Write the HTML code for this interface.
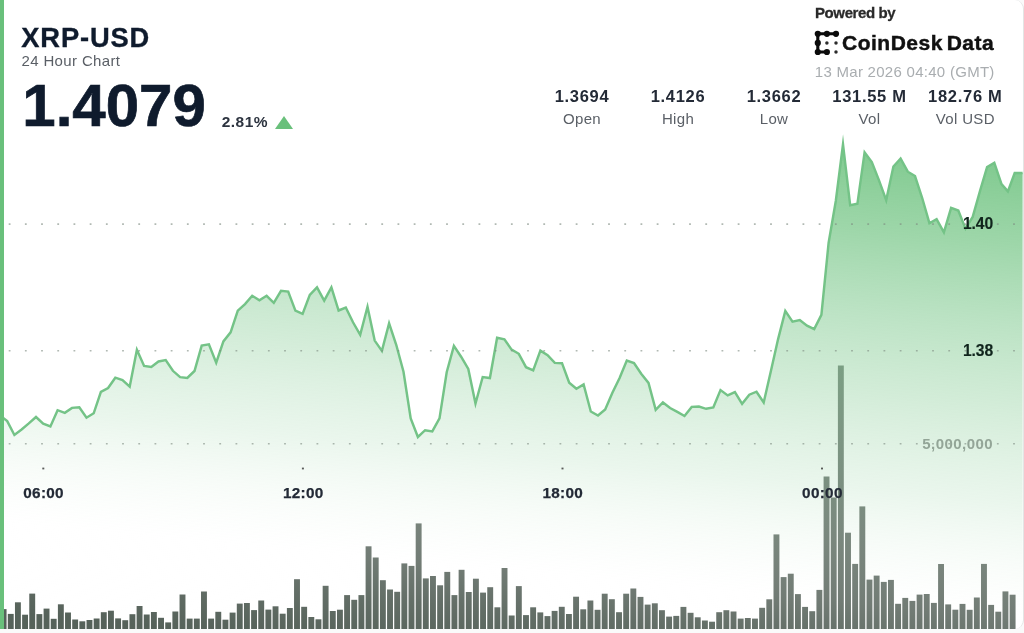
<!DOCTYPE html>
<html lang="en">
<head>
<meta charset="utf-8">
<title>XRP-USD 24 Hour Chart</title>
<style>
html,body{margin:0;padding:0;background:#fafafa;}
body{width:1024px;height:633px;overflow:hidden;position:relative;font-family:"Liberation Sans",sans-serif;color:#0f1b2d;}
#card{position:absolute;left:0;top:0;width:1022.5px;height:629.4px;overflow:hidden;background:#fff;border-right:1.5px solid #e3e5e4;border-radius:0 9px 9px 0;}
#chart{position:absolute;left:0;top:0;width:1024px;height:633px;filter:blur(0.55px);}
.t,.stat{filter:blur(0.35px);}
.t{position:absolute;white-space:nowrap;line-height:1;}
.b{font-weight:bold;}
#accent{position:absolute;left:0;top:0;width:3.6px;height:629.3px;background:#69c07b;}
#pair{left:21.3px;top:23.7px;font-size:27.3px;letter-spacing:0.85px;-webkit-text-stroke:0.35px #0f1b2d;}
#sub{left:21.5px;top:53.4px;font-size:15px;letter-spacing:0.36px;color:#5a5f66;}
#price{left:22.3px;top:76.2px;font-size:60px;letter-spacing:0px;-webkit-text-stroke:0.7px #0f1b2d;}
#chg{left:221.8px;top:114.3px;font-size:15.5px;letter-spacing:0.45px;color:#2d3440;}
#tri{position:absolute;left:275.2px;top:115.5px;width:0;height:0;border-left:9.1px solid transparent;border-right:9.1px solid transparent;border-bottom:13.8px solid #69c07b;}
#pow{left:815px;top:5.3px;font-size:15px;color:#2a2a2a;letter-spacing:-0.4px;-webkit-text-stroke:0.3px #2a2a2a;}
#brand{left:842px;top:32.3px;font-size:21px;color:#111;letter-spacing:0.5px;word-spacing:-2.5px;-webkit-text-stroke:0.45px #111;}
#date{left:814.8px;top:64.2px;font-size:15px;letter-spacing:0.28px;color:#a9adb0;}
.stat{position:absolute;top:88px;width:120px;margin-left:-60px;text-align:center;}
.stat .v{font-size:16.5px;font-weight:bold;line-height:17px;letter-spacing:0.7px;color:#232a36;}
.stat .l{font-size:15px;line-height:17px;margin-top:4.6px;letter-spacing:0.35px;color:#5a5f66;}
.xl{top:484.8px;font-size:15.3px;letter-spacing:0.3px;-webkit-text-stroke:0.25px #232a36;width:60px;margin-left:-29.7px;text-align:center;color:#232a36;}
.yl{font-size:15.7px;letter-spacing:-0.1px;right:29.4px;text-align:right;color:#10241c;-webkit-text-stroke:0.15px #10241c;}
</style>
</head>
<body>
<div id="card">
<svg id="chart" width="1024" height="633" viewBox="0 0 1024 633">
<defs>
<linearGradient id="g" gradientUnits="userSpaceOnUse" x1="900" y1="150" x2="848.8" y2="692.3">
<stop offset="0.000" stop-color="rgb(105,192,123)" stop-opacity="0.85"/>
<stop offset="0.153" stop-color="rgb(121,199,137)" stop-opacity="0.725"/>
<stop offset="0.300" stop-color="rgb(143,208,157)" stop-opacity="0.605"/>
<stop offset="0.445" stop-color="rgb(163,216,174)" stop-opacity="0.49"/>
<stop offset="0.626" stop-color="rgb(193,229,201)" stop-opacity="0.34"/>
<stop offset="0.729" stop-color="rgb(226,243,229)" stop-opacity="0.255"/>
<stop offset="0.836" stop-color="rgb(255,255,255)" stop-opacity="0.165"/>
<stop offset="0.909" stop-color="rgb(255,255,255)" stop-opacity="0.08"/>
<stop offset="1.001" stop-color="rgb(255,255,255)" stop-opacity="0"/>
</linearGradient>
</defs>
<g fill="#56625a">
<rect x="0.65" y="609.1" width="5.9" height="20.2"/>
<rect x="7.81" y="613.9" width="5.9" height="15.4"/>
<rect x="14.96" y="602.3" width="5.9" height="27.0"/>
<rect x="22.12" y="614.7" width="5.9" height="14.6"/>
<rect x="29.27" y="593.6" width="5.9" height="35.7"/>
<rect x="36.43" y="614.1" width="5.9" height="15.2"/>
<rect x="43.59" y="608.6" width="5.9" height="20.7"/>
<rect x="50.74" y="618.8" width="5.9" height="10.5"/>
<rect x="57.90" y="604.3" width="5.9" height="25.0"/>
<rect x="65.05" y="612.5" width="5.9" height="16.8"/>
<rect x="72.21" y="619.5" width="5.9" height="9.8"/>
<rect x="79.37" y="621.3" width="5.9" height="8.0"/>
<rect x="86.52" y="620.0" width="5.9" height="9.3"/>
<rect x="93.68" y="618.5" width="5.9" height="10.8"/>
<rect x="100.83" y="612.2" width="5.9" height="17.1"/>
<rect x="107.99" y="610.7" width="5.9" height="18.6"/>
<rect x="115.15" y="618.4" width="5.9" height="10.9"/>
<rect x="122.30" y="620.2" width="5.9" height="9.1"/>
<rect x="129.46" y="614.2" width="5.9" height="15.1"/>
<rect x="136.61" y="606.0" width="5.9" height="23.3"/>
<rect x="143.77" y="614.5" width="5.9" height="14.8"/>
<rect x="150.93" y="612.0" width="5.9" height="17.3"/>
<rect x="158.08" y="617.8" width="5.9" height="11.5"/>
<rect x="165.24" y="622.4" width="5.9" height="6.9"/>
<rect x="172.39" y="611.5" width="5.9" height="17.8"/>
<rect x="179.55" y="594.5" width="5.9" height="34.8"/>
<rect x="186.71" y="618.6" width="5.9" height="10.7"/>
<rect x="193.86" y="618.6" width="5.9" height="10.7"/>
<rect x="201.02" y="591.5" width="5.9" height="37.8"/>
<rect x="208.17" y="618.6" width="5.9" height="10.7"/>
<rect x="215.33" y="611.8" width="5.9" height="17.5"/>
<rect x="222.49" y="619.7" width="5.9" height="9.6"/>
<rect x="229.64" y="612.6" width="5.9" height="16.7"/>
<rect x="236.80" y="603.6" width="5.9" height="25.7"/>
<rect x="243.95" y="603.0" width="5.9" height="26.3"/>
<rect x="251.11" y="610.1" width="5.9" height="19.2"/>
<rect x="258.27" y="600.5" width="5.9" height="28.8"/>
<rect x="265.42" y="609.6" width="5.9" height="19.7"/>
<rect x="272.58" y="606.3" width="5.9" height="23.0"/>
<rect x="279.73" y="613.7" width="5.9" height="15.6"/>
<rect x="286.89" y="608.0" width="5.9" height="21.3"/>
<rect x="294.05" y="579.2" width="5.9" height="50.1"/>
<rect x="301.20" y="606.8" width="5.9" height="22.5"/>
<rect x="308.36" y="617.0" width="5.9" height="12.3"/>
<rect x="315.51" y="619.3" width="5.9" height="10.0"/>
<rect x="322.67" y="585.8" width="5.9" height="43.5"/>
<rect x="329.83" y="611.0" width="5.9" height="18.3"/>
<rect x="336.98" y="609.7" width="5.9" height="19.6"/>
<rect x="344.14" y="595.1" width="5.9" height="34.2"/>
<rect x="351.29" y="599.8" width="5.9" height="29.5"/>
<rect x="358.45" y="595.1" width="5.9" height="34.2"/>
<rect x="365.61" y="546.3" width="5.9" height="83.0"/>
<rect x="372.76" y="557.5" width="5.9" height="71.8"/>
<rect x="379.92" y="580.2" width="5.9" height="49.1"/>
<rect x="387.07" y="589.5" width="5.9" height="39.8"/>
<rect x="394.23" y="591.8" width="5.9" height="37.5"/>
<rect x="401.39" y="563.4" width="5.9" height="65.9"/>
<rect x="408.54" y="565.9" width="5.9" height="63.4"/>
<rect x="415.70" y="523.4" width="5.9" height="105.9"/>
<rect x="422.85" y="578.4" width="5.9" height="50.9"/>
<rect x="430.01" y="576.0" width="5.9" height="53.3"/>
<rect x="437.17" y="585.3" width="5.9" height="44.0"/>
<rect x="444.32" y="571.9" width="5.9" height="57.4"/>
<rect x="451.48" y="595.1" width="5.9" height="34.2"/>
<rect x="458.63" y="569.8" width="5.9" height="59.5"/>
<rect x="465.79" y="592.0" width="5.9" height="37.3"/>
<rect x="472.95" y="578.7" width="5.9" height="50.6"/>
<rect x="480.10" y="592.6" width="5.9" height="36.7"/>
<rect x="487.26" y="587.2" width="5.9" height="42.1"/>
<rect x="494.41" y="607.3" width="5.9" height="22.0"/>
<rect x="501.57" y="568.0" width="5.9" height="61.3"/>
<rect x="508.73" y="615.5" width="5.9" height="13.8"/>
<rect x="515.88" y="586.1" width="5.9" height="43.2"/>
<rect x="523.04" y="615.1" width="5.9" height="14.2"/>
<rect x="530.19" y="607.3" width="5.9" height="22.0"/>
<rect x="537.35" y="612.4" width="5.9" height="16.9"/>
<rect x="544.51" y="616.1" width="5.9" height="13.2"/>
<rect x="551.66" y="610.9" width="5.9" height="18.4"/>
<rect x="558.82" y="606.8" width="5.9" height="22.5"/>
<rect x="565.97" y="614.0" width="5.9" height="15.3"/>
<rect x="573.13" y="596.7" width="5.9" height="32.6"/>
<rect x="580.29" y="609.3" width="5.9" height="20.0"/>
<rect x="587.44" y="600.5" width="5.9" height="28.8"/>
<rect x="594.60" y="609.8" width="5.9" height="19.5"/>
<rect x="601.75" y="593.7" width="5.9" height="35.6"/>
<rect x="608.91" y="599.2" width="5.9" height="30.1"/>
<rect x="616.07" y="612.2" width="5.9" height="17.1"/>
<rect x="623.22" y="593.7" width="5.9" height="35.6"/>
<rect x="630.38" y="588.5" width="5.9" height="40.8"/>
<rect x="637.53" y="596.9" width="5.9" height="32.4"/>
<rect x="644.69" y="604.6" width="5.9" height="24.7"/>
<rect x="651.85" y="603.3" width="5.9" height="26.0"/>
<rect x="659.00" y="610.2" width="5.9" height="19.1"/>
<rect x="666.16" y="616.6" width="5.9" height="12.7"/>
<rect x="673.31" y="615.9" width="5.9" height="13.4"/>
<rect x="680.47" y="606.9" width="5.9" height="22.4"/>
<rect x="687.63" y="612.8" width="5.9" height="16.5"/>
<rect x="694.78" y="617.3" width="5.9" height="12.0"/>
<rect x="701.94" y="620.5" width="5.9" height="8.8"/>
<rect x="709.09" y="621.7" width="5.9" height="7.6"/>
<rect x="716.25" y="612.2" width="5.9" height="17.1"/>
<rect x="723.41" y="610.2" width="5.9" height="19.1"/>
<rect x="730.56" y="611.5" width="5.9" height="17.8"/>
<rect x="737.72" y="618.6" width="5.9" height="10.7"/>
<rect x="744.87" y="618.0" width="5.9" height="11.3"/>
<rect x="752.03" y="618.6" width="5.9" height="10.7"/>
<rect x="759.19" y="607.8" width="5.9" height="21.5"/>
<rect x="766.34" y="599.3" width="5.9" height="30.0"/>
<rect x="773.50" y="534.4" width="5.9" height="94.9"/>
<rect x="780.65" y="577.1" width="5.9" height="52.2"/>
<rect x="787.81" y="573.7" width="5.9" height="55.6"/>
<rect x="794.97" y="594.1" width="5.9" height="35.2"/>
<rect x="802.12" y="606.9" width="5.9" height="22.4"/>
<rect x="809.28" y="611.2" width="5.9" height="18.1"/>
<rect x="816.43" y="589.9" width="5.9" height="39.4"/>
<rect x="823.59" y="476.5" width="5.9" height="152.8"/>
<rect x="830.75" y="497.5" width="5.9" height="131.8"/>
<rect x="837.90" y="365.5" width="5.9" height="263.8"/>
<rect x="845.06" y="532.7" width="5.9" height="96.6"/>
<rect x="852.21" y="563.9" width="5.9" height="65.4"/>
<rect x="859.37" y="506.4" width="5.9" height="122.9"/>
<rect x="866.53" y="579.6" width="5.9" height="49.7"/>
<rect x="873.68" y="575.6" width="5.9" height="53.7"/>
<rect x="880.84" y="581.9" width="5.9" height="47.4"/>
<rect x="887.99" y="579.9" width="5.9" height="49.4"/>
<rect x="895.15" y="603.8" width="5.9" height="25.5"/>
<rect x="902.31" y="597.9" width="5.9" height="31.4"/>
<rect x="909.46" y="600.9" width="5.9" height="28.4"/>
<rect x="916.62" y="594.6" width="5.9" height="34.7"/>
<rect x="923.77" y="594.0" width="5.9" height="35.3"/>
<rect x="930.93" y="602.9" width="5.9" height="26.4"/>
<rect x="938.09" y="564.0" width="5.9" height="65.3"/>
<rect x="945.24" y="604.4" width="5.9" height="24.9"/>
<rect x="952.40" y="609.7" width="5.9" height="19.6"/>
<rect x="959.55" y="603.9" width="5.9" height="25.4"/>
<rect x="966.71" y="609.8" width="5.9" height="19.5"/>
<rect x="973.87" y="597.5" width="5.9" height="31.8"/>
<rect x="981.02" y="563.9" width="5.9" height="65.4"/>
<rect x="988.18" y="604.9" width="5.9" height="24.4"/>
<rect x="995.33" y="611.7" width="5.9" height="17.6"/>
<rect x="1002.49" y="591.4" width="5.9" height="37.9"/>
<rect x="1009.65" y="594.7" width="5.9" height="34.6"/>
</g>
<path d="M0.0,415.5 L7.2,421.1 L14.4,435.0 L21.6,429.5 L28.8,423.4 L36.0,417.0 L43.2,423.6 L50.4,426.4 L57.6,410.2 L64.8,412.8 L72.0,407.9 L79.3,407.2 L86.5,417.7 L93.7,413.3 L100.9,391.9 L108.1,388.0 L115.3,377.7 L122.5,380.1 L129.7,386.7 L136.9,349.7 L144.1,365.9 L151.3,366.9 L158.5,361.5 L165.7,360.0 L172.9,370.8 L180.1,377.2 L187.3,378.0 L194.5,371.0 L201.7,345.6 L208.9,344.4 L216.2,362.7 L223.4,341.4 L230.6,332.3 L237.8,310.7 L245.0,304.1 L252.2,295.8 L259.4,300.2 L266.6,295.8 L273.8,302.9 L281.0,290.8 L288.2,291.6 L295.4,310.7 L302.6,313.9 L309.8,294.9 L317.0,287.4 L324.2,300.7 L331.4,287.3 L338.6,310.5 L345.8,307.5 L353.0,322.3 L360.2,334.8 L367.5,306.8 L374.7,340.6 L381.9,350.9 L389.1,323.3 L396.3,345.0 L403.5,371.8 L410.7,418.4 L417.9,437.0 L425.1,430.2 L432.3,431.4 L439.5,418.4 L446.7,372.3 L453.9,345.9 L461.1,356.7 L468.3,368.9 L475.5,403.5 L482.7,377.0 L489.9,378.0 L497.1,337.7 L504.4,339.3 L511.6,349.6 L518.8,353.8 L526.0,367.2 L533.2,370.4 L540.4,350.7 L547.6,355.1 L554.8,362.9 L562.0,363.2 L569.2,382.7 L576.4,388.7 L583.6,384.4 L590.8,411.5 L598.0,415.5 L605.2,409.5 L612.4,392.7 L619.6,378.0 L626.8,360.5 L634.0,363.1 L641.2,373.8 L648.5,382.9 L655.7,409.9 L662.9,402.5 L670.1,408.0 L677.3,411.9 L684.5,416.0 L691.7,406.9 L698.9,406.6 L706.1,408.8 L713.3,407.5 L720.5,390.1 L727.7,395.4 L734.9,392.1 L742.1,403.8 L749.3,394.7 L756.5,391.7 L763.7,402.5 L770.9,370.9 L778.1,339.1 L785.3,310.9 L792.5,321.7 L799.8,320.0 L807.0,325.7 L814.2,329.1 L821.4,314.9 L828.6,243.0 L835.8,201.0 L843.0,144.3 L850.2,205.3 L857.4,203.8 L864.6,152.4 L871.8,162.1 L879.0,180.4 L886.2,200.2 L893.4,166.5 L900.6,158.6 L907.8,171.7 L915.0,176.0 L922.2,198.0 L929.4,223.2 L936.6,219.1 L943.9,232.4 L951.1,207.8 L958.3,210.5 L965.5,228.6 L972.7,216.9 L979.9,191.3 L987.1,167.1 L994.3,162.8 L1001.5,184.1 L1007.9,191.4 L1014.7,173.0 L1022.6,173.0 L1022.6,629.3 L0.0,629.3 Z" fill="url(#g)"/>
<path d="M0.0,415.5 L7.2,421.1 L14.4,435.0 L21.6,429.5 L28.8,423.4 L36.0,417.0 L43.2,423.6 L50.4,426.4 L57.6,410.2 L64.8,412.8 L72.0,407.9 L79.3,407.2 L86.5,417.7 L93.7,413.3 L100.9,391.9 L108.1,388.0 L115.3,377.7 L122.5,380.1 L129.7,386.7 L136.9,349.7 L144.1,365.9 L151.3,366.9 L158.5,361.5 L165.7,360.0 L172.9,370.8 L180.1,377.2 L187.3,378.0 L194.5,371.0 L201.7,345.6 L208.9,344.4 L216.2,362.7 L223.4,341.4 L230.6,332.3 L237.8,310.7 L245.0,304.1 L252.2,295.8 L259.4,300.2 L266.6,295.8 L273.8,302.9 L281.0,290.8 L288.2,291.6 L295.4,310.7 L302.6,313.9 L309.8,294.9 L317.0,287.4 L324.2,300.7 L331.4,287.3 L338.6,310.5 L345.8,307.5 L353.0,322.3 L360.2,334.8 L367.5,306.8 L374.7,340.6 L381.9,350.9 L389.1,323.3 L396.3,345.0 L403.5,371.8 L410.7,418.4 L417.9,437.0 L425.1,430.2 L432.3,431.4 L439.5,418.4 L446.7,372.3 L453.9,345.9 L461.1,356.7 L468.3,368.9 L475.5,403.5 L482.7,377.0 L489.9,378.0 L497.1,337.7 L504.4,339.3 L511.6,349.6 L518.8,353.8 L526.0,367.2 L533.2,370.4 L540.4,350.7 L547.6,355.1 L554.8,362.9 L562.0,363.2 L569.2,382.7 L576.4,388.7 L583.6,384.4 L590.8,411.5 L598.0,415.5 L605.2,409.5 L612.4,392.7 L619.6,378.0 L626.8,360.5 L634.0,363.1 L641.2,373.8 L648.5,382.9 L655.7,409.9 L662.9,402.5 L670.1,408.0 L677.3,411.9 L684.5,416.0 L691.7,406.9 L698.9,406.6 L706.1,408.8 L713.3,407.5 L720.5,390.1 L727.7,395.4 L734.9,392.1 L742.1,403.8 L749.3,394.7 L756.5,391.7 L763.7,402.5 L770.9,370.9 L778.1,339.1 L785.3,310.9 L792.5,321.7 L799.8,320.0 L807.0,325.7 L814.2,329.1 L821.4,314.9 L828.6,243.0 L835.8,201.0 L843.0,144.3 L850.2,205.3 L857.4,203.8 L864.6,152.4 L871.8,162.1 L879.0,180.4 L886.2,200.2 L893.4,166.5 L900.6,158.6 L907.8,171.7 L915.0,176.0 L922.2,198.0 L929.4,223.2 L936.6,219.1 L943.9,232.4 L951.1,207.8 L958.3,210.5 L965.5,228.6 L972.7,216.9 L979.9,191.3 L987.1,167.1 L994.3,162.8 L1001.5,184.1 L1007.9,191.4 L1014.7,173.0 L1022.6,173.0" fill="none" stroke="#74c387" stroke-width="2.45" stroke-linejoin="miter" stroke-miterlimit="10"/>
<g stroke="#7d8a80" stroke-width="1.6" stroke-dasharray="1.8 14.4" stroke-dashoffset="-8.7" opacity="0.6">
<line x1="0" y1="224.1" x2="1024" y2="224.1"/>
<line x1="0" y1="350.7" x2="1024" y2="350.7"/>
<line x1="0" y1="443.8" x2="1024" y2="443.8"/>
</g>
<g fill="#333" opacity="0.8"><rect x="42.3" y="467.6" width="2" height="1.8"/><rect x="301.9" y="467.6" width="2" height="1.8"/><rect x="561.5" y="467.6" width="2" height="1.8"/><rect x="821.0" y="467.6" width="2" height="1.8"/></g>
</svg>
<div id="accent"></div>
<div class="t b" id="pair">XRP-USD</div>
<div class="t" id="sub">24 Hour Chart</div>
<div class="t b" id="price">1.4079</div>
<div class="t b" id="chg">2.81%</div>
<div id="tri"></div>
<div class="t b" id="pow">Powered by</div>
<svg style="position:absolute;left:812px;top:28px;filter:blur(0.4px)" width="30" height="30" viewBox="812 28 30 30">
<g stroke="#0b0b0b" stroke-width="3.1" stroke-linecap="round" stroke-linejoin="round" fill="none">
<path d="M836,33.8 L817.8,33.8 L817.8,52 L826.9,52"/>
</g>
<g fill="#0b0b0b">
<circle cx="817.8" cy="33.8" r="3.1"/><circle cx="826.9" cy="33.8" r="3.1"/><circle cx="836" cy="33.8" r="3.1"/>
<circle cx="817.8" cy="42.9" r="3.1"/><circle cx="817.8" cy="52" r="3.1"/><circle cx="826.9" cy="52" r="3.1"/>
<circle cx="826.9" cy="42.9" r="1.75" fill="#2b2b2b"/><circle cx="836" cy="42.9" r="1.75" fill="#2b2b2b"/><circle cx="836" cy="52" r="1.75" fill="#2b2b2b"/>
</g>
</svg>
<div class="t b" id="brand">CoinDesk Data</div>
<div class="t" id="date">13 Mar 2026 04:40 (GMT)</div>
<div class="stat" style="left:582px"><div class="v">1.3694</div><div class="l">Open</div></div>
<div class="stat" style="left:678px"><div class="v">1.4126</div><div class="l">High</div></div>
<div class="stat" style="left:774px"><div class="v">1.3662</div><div class="l">Low</div></div>
<div class="stat" style="left:869.5px"><div class="v">131.55 M</div><div class="l">Vol</div></div>
<div class="stat" style="left:965.3px"><div class="v">182.76 M</div><div class="l">Vol USD</div></div>
<div class="t b xl" style="left:43.3px">06:00</div>
<div class="t b xl" style="left:302.9px">12:00</div>
<div class="t b xl" style="left:562.5px">18:00</div>
<div class="t b xl" style="left:822.1px">00:00</div>
<div class="t b yl" style="top:216.4px">1.40</div>
<div class="t b yl" style="top:343.4px">1.38</div>
<div class="t b yl" style="top:436.3px;color:#93a597;font-size:15px;letter-spacing:0.45px;-webkit-text-stroke:0">5,000,000</div>
</div>
</body>
</html>
